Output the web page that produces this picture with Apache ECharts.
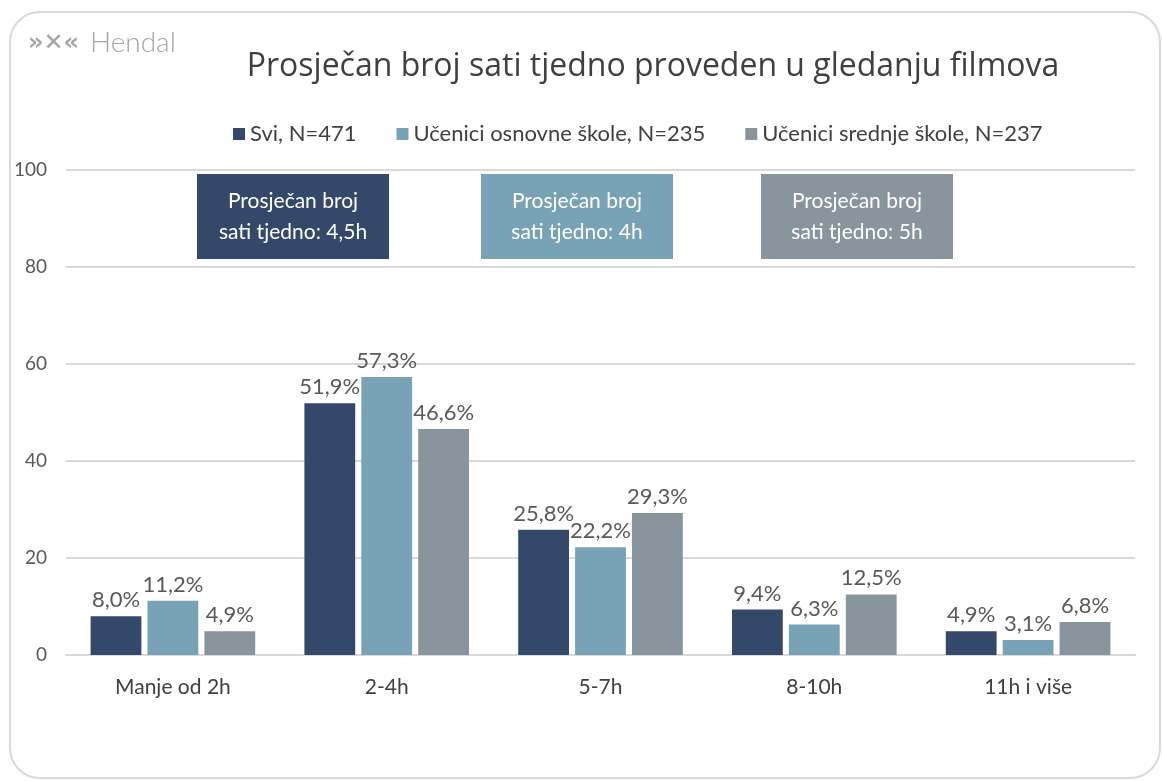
<!DOCTYPE html>
<html>
<head>
<meta charset="utf-8">
<script src="https://cdn.jsdelivr.net/npm/echarts@6/dist/echarts.min.js"></script>
<style>
  html, body { margin: 0; padding: 0; background: #fff; }
  #chart { width: 1162px; height: 781px; }
</style>
</head>
<body>
<div id="chart"></div>
<script>
// podaci
var categories = ['Manje od 2h', '2-4h', '5-7h', '8-10h', '11h i više'];
var seriesNames = ['Svi, N=471', 'Učenici osnovne škole, N=235', 'Učenici srednje škole, N=237'];
var sviData = [8.0, 51.9, 25.8, 9.4, 4.9];
var osnovnaData = [11.2, 57.3, 22.2, 6.3, 3.1];
var srednjaData = [4.9, 46.6, 29.3, 12.5, 6.8];
var yTicks = [0, 20, 40, 60, 80, 100];
var boxTexts = ['Prosječan broj\nsati tjedno: 4,5h', 'Prosječan broj\nsati tjedno: 4h', 'Prosječan broj\nsati tjedno: 5h'];

var colors = ['#34496A', '#78A2B5', '#89959D'];
var font = 'Lato, "Open Sans", sans-serif';

var chart = echarts.init(document.getElementById('chart'));

function barSeries(name, data) {
  return {
    name: name,
    type: 'bar',
    data: data,
    barGap: '12%',
    barCategoryGap: '23%',
    label: {
      show: true,
      position: 'top',
      distance: 5,
      color: '#595959',
      fontSize: 22,
      fontFamily: font,
      formatter: function (p) { return p.value.toFixed(1).replace('.', ',') + '%'; }
    }
  };
}

// okviri s prosjekom
var boxes = [];
var boxX = [197, 481, 761];
for (var i = 0; i < boxTexts.length; i++) {
  boxes.push({
    type: 'group',
    left: boxX[i],
    top: 174,
    children: [
      { type: 'rect', shape: { x: 0, y: 0, width: 192, height: 85 }, style: { fill: colors[i] } },
      {
        type: 'text', x: 96, y: 42.5,
        style: {
          text: boxTexts[i], fill: '#fff', font: '21px ' + font,
          align: 'center', verticalAlign: 'middle', lineHeight: 31
        }
      }
    ]
  });
}

var option = {
  color: colors,
  title: {
    text: 'Prosječan broj sati tjedno proveden u gledanju filmova',
    left: 648,
    textAlign: 'center',
    top: 46,
    textStyle: { color: '#404040', fontSize: 32, fontWeight: 'normal', fontFamily: '"Open Sans", sans-serif' }
  },
  legend: {
    data: seriesNames,
    top: 118,
    left: 228,
    itemWidth: 12,
    itemHeight: 12,
    itemGap: 40,
    icon: 'rect',
    textStyle: { color: '#404040', fontSize: 22, fontFamily: font }
  },
  grid: { left: 66, right: 27, top: 170, bottom: 126 },
  xAxis: {
    type: 'category',
    data: categories,
    axisLine: { lineStyle: { color: '#d9d9d9', width: 2 } },
    axisTick: { show: false },
    axisLabel: { color: '#404040', fontSize: 21, fontFamily: font, margin: 22 }
  },
  yAxis: {
    type: 'value',
    min: yTicks[0],
    max: yTicks[yTicks.length - 1],
    interval: 20,
    axisLine: { show: false },
    axisTick: { show: false },
    splitLine: { lineStyle: { color: '#d9d9d9', width: 2 } },
    axisLabel: { color: '#595959', fontSize: 19, fontFamily: font, margin: 19 }
  },
  series: [
    barSeries(seriesNames[0], sviData),
    barSeries(seriesNames[1], osnovnaData),
    barSeries(seriesNames[2], srednjaData)
  ],
  graphic: [
    {
      type: 'rect',
      shape: { x: 10, y: 12, width: 1150, height: 766, r: 30 },
      style: { fill: 'none', stroke: '#d9d9d9', lineWidth: 2 },
      silent: true
    },
    {
      type: 'text', left: 28, top: 32,
      style: { text: '»✕«', fill: '#a6a6a6', font: 'bold 24px "DejaVu Sans", sans-serif' }
    },
    {
      type: 'text', left: 90, top: 29,
      style: { text: 'Hendal', fill: '#a6a6a6', font: '300 28px Lato, sans-serif' }
    }
  ].concat(boxes)
};

chart.setOption(option);
</script>
</body>
</html>
